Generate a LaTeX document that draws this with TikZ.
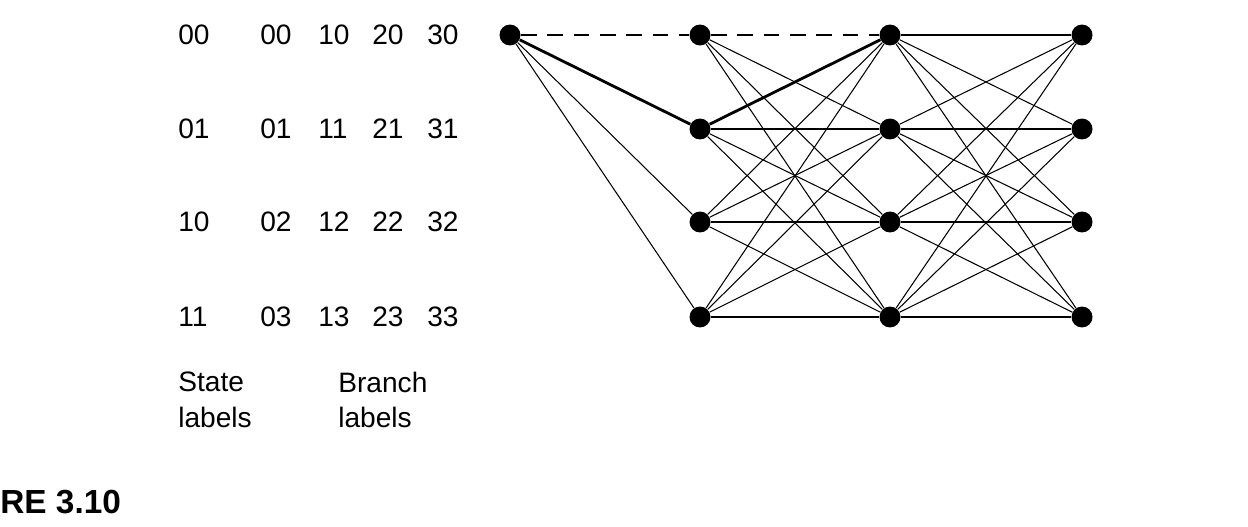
\documentclass[tikz,border=0pt]{standalone}
\usepackage{fontspec}
\setmainfont{Liberation Sans}
\begin{document}
\begin{tikzpicture}
	[ x={(0.02cm,0)}, y={(0,-0.02cm)},
	  state/.style={circle,fill=black,inner sep=0pt,minimum size=0.42cm},
	  edge/.style={line width=0.6pt},
	  path/.style={line width=1.6pt},
	  dashedge/.style={line width=1.4pt,dash pattern=on 9pt off 6pt},
	  lbl/.style={font=\fontsize{16}{19}\selectfont,anchor=west,inner sep=0pt},
	  key/.style={font=\fontsize{16}{20}\selectfont,anchor=north west,inner sep=0pt,align=left} ]
	\useasboundingbox (0,0) rectangle (1248,527);

	% state and branch labels
	\foreach \s/\y [count=\r from 0] in {00/35,01/129,10/222,11/317} {
		\node[lbl] (s\r) at (178,\y) {\s};
		\foreach \c/\x in {0/260,1/318,2/372,3/427}
			\node[lbl] (b\c\r) at (\x,\y) {\c\r};
	}
	\node[key] (skey) at (178,372) {State\\labels};
	\node[key] (bkey) at (338,372) {Branch\\labels};
	\node[font=\fontsize{19}{22}\selectfont\bfseries,anchor=west,inner sep=0pt] (fig) at (0,502) {RE 3.10};

	% trellis nodes
	\node[state] (t0) at (510,35) {};
	\foreach \y [count=\r from 0] in {35,129,222,317} {
		\node[state] (a\r) at (700,\y) {};
		\node[state] (m\r) at (890,\y) {};
		\node[state] (e\r) at (1082,\y) {};
	}

	% branches
	\draw[dashedge] (t0) -- (a0);
	\draw[path] (t0) -- (a1);
	\draw[edge] (t0) -- (a2);
	\draw[edge] (t0) -- (a3);
	\foreach \i in {0,...,3}
		\foreach \j in {0,...,3} {
			\ifnum\i\j=0 \else \draw[edge] (a\i) -- (m\j); \fi
			\draw[edge] (m\i) -- (e\j);
		}
	\draw[dashedge] (a0) -- (m0);
	\draw[path] (a1) -- (m0);
\end{tikzpicture}
\end{document}
